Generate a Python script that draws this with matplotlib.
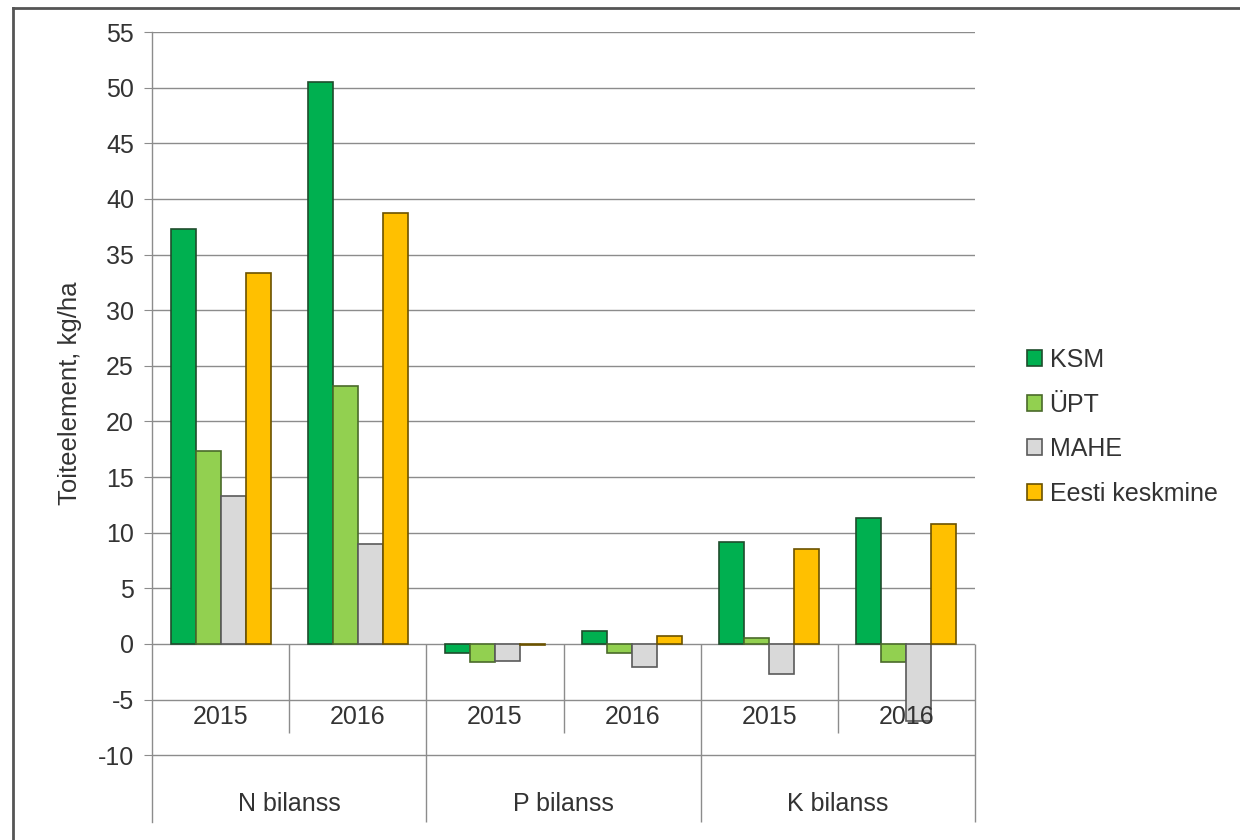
import matplotlib
matplotlib.use("Agg")
import matplotlib.pyplot as plt
from matplotlib.patches import Patch
from matplotlib.lines import Line2D
import numpy as np

plt.rcParams['font.family'] = ['Liberation Sans', 'DejaVu Sans']

# Nutrient balance per farming system, kg/ha
groups = ['N bilanss', 'P bilanss', 'K bilanss']
years = ['2015', '2016']
series_names = ['KSM', 'ÜPT', 'MAHE', 'Eesti keskmine']
ksm = [37.3, 50.5, -0.85, 1.15, 9.2, 11.35]
upt = [17.3, 23.2, -1.65, -0.85, 0.55, -1.6]
mahe = [13.3, 9.0, -1.5, -2.05, -2.7, -6.9]
eesti = [33.3, 38.7, -0.1, 0.75, 8.5, 10.75]
y_ticks = list(range(-10, 56, 5))

fills = ['#00B050', '#92D050', '#D9D9D9', '#FFC000']
edges = ['#1f4d2c', '#4a6a2a', '#5a5a5a', '#6b5200']
text_col = '#333333'
grid_col = '#8c8c8c'

W, H = 1240, 840
fig = plt.figure(figsize=(W / 100, H / 100), dpi=100)
fig.patch.set_facecolor('white')

ax = fig.add_axes([152 / W, 18 / H, 823 / W, 790 / H])
ax.set_facecolor('none')
ax.set_xlim(0, 6)
ax.set_ylim(-16, 55)

for v in y_ticks:
    ax.axhline(v, color=grid_col, lw=1, zorder=0)

x = np.arange(6) + 0.5
w = 0.182
for i, (vals, fc, ec) in enumerate(zip([ksm, upt, mahe, eesti], fills, edges)):
    ax.bar(x + (i - 1.5) * w, vals, w, color=fc, edgecolor=ec, linewidth=1.2, zorder=2)

# category table under the zero line
ax.vlines([1, 3, 5], -8, 0, color=grid_col, lw=1, zorder=1, clip_on=False)
ax.vlines([2, 4, 6], -16, 0, color=grid_col, lw=1, zorder=1, clip_on=False)
for k in range(6):
    ax.text(k + 0.5, -6.6, years[k % 2], ha='center', va='center', fontsize=18,
            color=text_col, zorder=4)
for g, name in enumerate(groups):
    ax.text(2 * g + 1, -14.4, name, ha='center', va='center', fontsize=18,
            color=text_col, zorder=4)

ax.set_xticks([])
ax.set_yticks(y_ticks)
ax.set_yticklabels([str(v) for v in y_ticks], fontsize=18, color=text_col)
ax.tick_params(axis='y', direction='out', length=6, color=grid_col, pad=7)
for s in ['top', 'right', 'bottom']:
    ax.spines[s].set_visible(False)
ax.spines['left'].set_color(grid_col)
ax.spines['left'].set_linewidth(1)

fig.text(70 / W, 1 - 393 / H, 'Toiteelement, kg/ha', rotation=90, ha='center', va='center',
         fontsize=18.5, color=text_col)

handles = [Patch(facecolor=fc, edgecolor=ec, linewidth=1.2) for fc, ec in zip(fills, edges)]
fig.legend(handles, series_names, loc='upper left', bbox_to_anchor=(1027 / W, 1 - 348 / H),
           frameon=False, fontsize=18, handlelength=0.6, handleheight=0.6,
           handletextpad=0.3, labelspacing=0.82, borderpad=0, borderaxespad=0,
           labelcolor=text_col)

# outer chart frame
fx, fy = 13 / W, 1 - 8 / H
fig.add_artist(Line2D([fx, fx], [0, fy], transform=fig.transFigure, color='#555555', lw=2))
fig.add_artist(Line2D([fx, 1], [fy, fy], transform=fig.transFigure, color='#555555', lw=2))

fig.savefig('out.png', dpi=100, facecolor='white')
